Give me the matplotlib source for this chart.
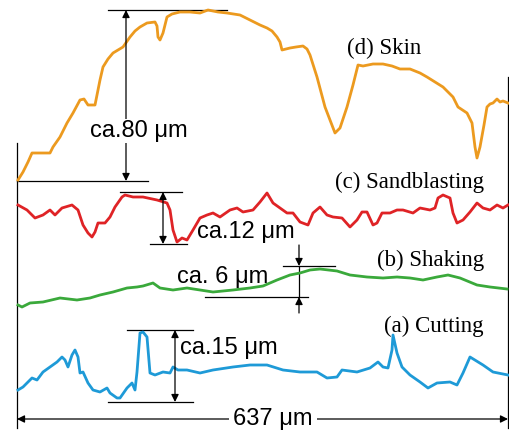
import matplotlib
matplotlib.use('Agg')
import matplotlib.pyplot as plt

# profile traces (image pixel coordinates, y down)
skin_x = [18, 23, 28, 32, 40, 50, 53, 60, 67, 73, 80, 84, 88, 95, 100, 103, 108, 113, 118, 123, 130,
          135, 140, 147, 155, 157, 158, 160, 163, 167, 172, 180, 190, 200, 208, 218, 227, 240, 250,
          260, 267, 272, 277, 280, 282, 286, 290, 296, 303, 307, 310, 317, 325, 330, 335, 340, 347,
          353, 358, 363, 373, 383, 392, 400, 410, 420, 427, 435, 443, 453, 458, 467, 472, 475, 477,
          480, 484, 487, 490, 493, 497, 500, 503, 508]
skin_y = [180, 172, 162, 153, 153, 153, 147, 137, 123, 113, 100, 99, 105, 105, 80, 67, 59, 53, 50,
          47, 37, 31, 27, 23, 22, 26, 37, 40, 33, 17, 14, 12, 12, 13, 10, 12, 13, 15, 20, 25, 28,
          31, 37, 42, 50, 49, 48, 47, 46, 49, 55, 77, 107, 120, 133, 128, 107, 85, 65, 66, 64, 64,
          66, 69, 69, 73, 77, 82, 87, 97, 107, 113, 123, 147, 158, 147, 125, 107, 104, 103, 99,
          102, 101, 103]

sand_x = [18, 27, 35, 43, 50, 55, 62, 72, 78, 83, 88, 92, 95, 98, 105, 110, 115, 122, 125, 133, 143,
          157, 167, 170, 173, 177, 182, 187, 193, 200, 207, 213, 220, 230, 237, 243, 253, 260, 267,
          273, 280, 287, 293, 300, 308, 313, 320, 327, 333, 342, 350, 357, 362, 367, 373, 377, 382,
          390, 397, 403, 413, 420, 430, 435, 438, 443, 450, 453, 457, 463, 470, 477, 483, 490, 497,
          503, 508]
sand_y = [205, 210, 218, 215, 210, 215, 208, 205, 210, 225, 233, 237, 232, 223, 223, 217, 207, 197,
          195, 197, 197, 200, 203, 210, 230, 242, 238, 240, 230, 218, 215, 213, 217, 210, 208, 212,
          210, 202, 193, 203, 208, 213, 213, 222, 225, 213, 207, 215, 217, 218, 227, 220, 212, 212,
          225, 223, 213, 213, 210, 210, 213, 208, 210, 208, 198, 195, 198, 213, 223, 220, 212, 203,
          208, 210, 205, 208, 205]

shake_x = [18, 22, 30, 43, 60, 77, 90, 100, 113, 127, 137, 143, 153, 160, 173, 187, 200, 213, 233,
           250, 263, 277, 290, 300, 310, 320, 337, 350, 367, 383, 397, 410, 423, 437, 448, 460, 477,
           490, 507]
shake_y = [305, 307, 303, 302, 298, 300, 298, 295, 292, 288, 287, 286, 283, 288, 290, 288, 290, 292,
           290, 288, 286, 280, 275, 273, 270, 269, 271, 275, 277, 278, 277, 278, 280, 277, 275, 278,
           285, 287, 289]

cut_x = [18, 23, 32, 37, 43, 50, 57, 62, 65, 68, 72, 75, 78, 80, 83, 88, 93, 100, 107, 110, 117, 120,
         127, 132, 135, 137, 140, 143, 147, 150, 155, 163, 170, 173, 178, 187, 200, 213, 233, 250,
         267, 283, 300, 317, 327, 337, 342, 357, 370, 378, 383, 388, 392, 393, 397, 402, 410, 420,
         428, 437, 450, 457, 463, 470, 483, 493, 508]
cut_y = [390, 387, 378, 380, 372, 367, 362, 357, 360, 367, 355, 350, 357, 373, 372, 383, 390, 392,
         388, 393, 398, 398, 388, 383, 390, 372, 333, 332, 337, 373, 375, 372, 373, 367, 370, 370,
         373, 370, 367, 365, 365, 370, 372, 372, 378, 377, 370, 372, 368, 362, 367, 368, 350, 335,
         353, 367, 375, 382, 388, 383, 382, 385, 373, 357, 365, 372, 375]

labels = ['(d) Skin', '(c) Sandblasting', '(b) Shaking', '(a) Cutting']
label_pos = [(384, 48), (484, 182), (484, 260), (484, 326)]
label_ha = ['center', 'right', 'right', 'right']
colors = ['#EC9A1F', '#DF2326', '#3AA93B', '#1E9AD7']

fig = plt.figure(figsize=(5.1, 4.34), dpi=100)
ax = fig.add_axes([0, 0, 1, 1])
ax.set_xlim(0, 510)
ax.set_ylim(434, 0)
ax.axis('off')

for xs, ys, c in zip([skin_x, sand_x, shake_x, cut_x], [skin_y, sand_y, shake_y, cut_y], colors):
    ax.plot(xs, ys, color=c, lw=2.0, solid_joinstyle='round', zorder=3)

for lab, (lx, ly), ha in zip(labels, label_pos, label_ha):
    ax.text(lx, ly, lab, family='Liberation Serif', fontsize=16.5, ha=ha, va='center')

k = dict(color='black', lw=0.9)
# side frame lines
ax.plot([17, 17], [143, 428], **k)
ax.plot([508, 508], [77, 428], **k)

def dbl_arrow(x, y0, y1):
    ax.annotate('', xy=(x, y1), xytext=(x, y0),
                arrowprops=dict(arrowstyle='<|-|>', color='black', lw=0.9,
                                mutation_scale=11, shrinkA=0, shrinkB=0), zorder=4)

fs = 17
# skin: ca.80 um
ax.plot([108, 227], [10, 10], **k)
ax.plot([17, 148], [181, 181], **k)
dbl_arrow(126, 10, 181)
ax.text(139, 131, 'ca.80 \u03bcm', family='Liberation Sans', fontsize=fs, ha='center', va='center',
        bbox=dict(facecolor='white', edgecolor='none', pad=1), zorder=5)

# sandblasting: ca.12 um
ax.plot([120, 182], [192, 192], **k)
ax.plot([150, 187], [244, 244], **k)
dbl_arrow(163, 192, 244)
ax.text(197, 232, 'ca.12 \u03bcm', family='Liberation Sans', fontsize=fs, ha='left', va='center',
        zorder=5)

# shaking: ca. 6 um
ax.plot([283, 335], [266, 266], **k)
ax.plot([205, 308], [297, 297], **k)
ax.plot([299, 299], [266, 297], **k)
ax.annotate('', xy=(299, 266), xytext=(299, 245),
            arrowprops=dict(arrowstyle='-|>', color='black', lw=0.9, mutation_scale=11,
                            shrinkA=0, shrinkB=0))
ax.annotate('', xy=(299, 297), xytext=(299, 313),
            arrowprops=dict(arrowstyle='-|>', color='black', lw=0.9, mutation_scale=11,
                            shrinkA=0, shrinkB=0))
ax.text(223, 277, 'ca. 6 \u03bcm', family='Liberation Sans', fontsize=fs, ha='center', va='center',
        zorder=5)

# cutting: ca.15 um
ax.plot([127, 193], [330, 330], **k)
ax.plot([108, 193], [402, 402], **k)
dbl_arrow(175, 330, 402)
ax.text(180, 348, 'ca.15 \u03bcm', family='Liberation Sans', fontsize=fs, ha='left', va='center',
        zorder=5)

# total width: 637 um
ax.annotate('', xy=(508, 419), xytext=(17, 419),
            arrowprops=dict(arrowstyle='<|-|>', color='black', lw=0.9, mutation_scale=11,
                            shrinkA=0, shrinkB=0))
ax.text(273, 419, '637 \u03bcm', family='Liberation Sans', fontsize=fs, ha='center', va='center',
        bbox=dict(facecolor='white', edgecolor='none', pad=3), zorder=5)

fig.savefig('out.png', dpi=100)
